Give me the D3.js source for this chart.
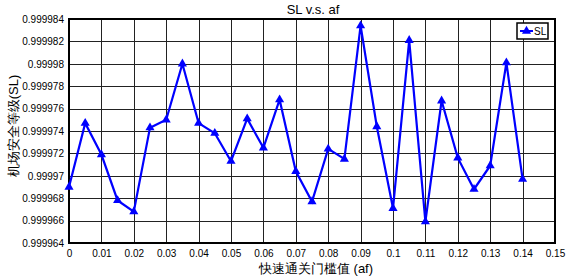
<!DOCTYPE html>
<html>
<head>
<meta charset="utf-8">
<script src="https://cdn.jsdelivr.net/npm/d3@7"></script>
<style>
  body { margin: 0; background: #fff; }
  text { font-family: "Liberation Sans", Arial, sans-serif; }
</style>
</head>
<body>
<div id="container"></div>
<script>
const width = 567;
const height = 279;
const marginTop = 19;
const marginRight = 12;
const marginBottom = 36;
const marginLeft = 69;

// af values (x) and SL values (y)
const afValues = [0, 0.005, 0.01, 0.015, 0.02, 0.025, 0.03, 0.035, 0.04, 0.045,
  0.05, 0.055, 0.06, 0.065, 0.07, 0.075, 0.08, 0.085, 0.09, 0.095,
  0.1, 0.105, 0.11, 0.115, 0.12, 0.125, 0.13, 0.135, 0.14];
const slValues = [0.9999690, 0.9999747, 0.9999719, 0.9999678, 0.9999668, 0.9999743, 0.9999750, 0.9999800, 0.9999747, 0.9999738,
  0.9999713, 0.9999751, 0.9999725, 0.9999768, 0.9999704, 0.9999677, 0.9999724, 0.9999715, 0.9999834, 0.9999744,
  0.9999671, 0.9999821, 0.9999659, 0.9999767, 0.9999716, 0.9999688, 0.9999709, 0.9999801, 0.9999697];

const xTicks = [0, 0.01, 0.02, 0.03, 0.04, 0.05, 0.06, 0.07, 0.08, 0.09, 0.1, 0.11, 0.12, 0.13, 0.14, 0.15];
const yTicks = [0.999964, 0.999966, 0.999968, 0.99997, 0.999972, 0.999974, 0.999976, 0.999978, 0.99998, 0.999982, 0.999984];
const yTickLabels = ["0.999964", "0.999966", "0.999968", "0.99997", "0.999972", "0.999974", "0.999976", "0.999978", "0.99998", "0.999982", "0.999984"];

const data = afValues.map((a, i) => ({af: a, sl: slValues[i]}));

const x = d3.scaleLinear()
  .domain([0, 0.15])
  .range([marginLeft, width - marginRight]);

const y = d3.scaleLinear()
  .domain([0.999964, 0.999984])
  .range([height - marginBottom, marginTop]);

const svg = d3.create("svg")
  .attr("width", width)
  .attr("height", height)
  .attr("viewBox", [0, 0, width, height]);

// grid
svg.append("g")
  .attr("stroke", "#222")
  .attr("stroke-width", 1)
  .selectAll("line.vx")
  .data(xTicks)
  .join("line")
    .attr("x1", d => Math.round(x(d)) + 0.5)
    .attr("x2", d => Math.round(x(d)) + 0.5)
    .attr("y1", marginTop)
    .attr("y2", height - marginBottom);

svg.append("g")
  .attr("stroke", "#222")
  .attr("stroke-width", 1)
  .selectAll("line")
  .data(yTicks)
  .join("line")
    .attr("x1", marginLeft)
    .attr("x2", width - marginRight)
    .attr("y1", d => Math.round(y(d)) + 0.5)
    .attr("y2", d => Math.round(y(d)) + 0.5);

// axes
svg.append("g")
  .attr("transform", `translate(0,${height - marginBottom})`)
  .call(d3.axisBottom(x).tickValues(xTicks).tickFormat(d => d3.format("")(+d.toFixed(2))).tickSize(0).tickPadding(7))
  .call(g => g.select(".domain").remove())
  .call(g => g.selectAll("text").attr("font-size", 10).attr("fill", "#000").attr("font-family", "Liberation Sans, Arial, sans-serif"));

svg.append("g")
  .attr("transform", `translate(${marginLeft},0)`)
  .call(d3.axisLeft(y).tickValues(yTicks).tickFormat((d, i) => yTickLabels[i]).tickSize(0).tickPadding(5))
  .call(g => g.select(".domain").remove())
  .call(g => g.selectAll("text").attr("font-size", 10).attr("fill", "#000").attr("font-family", "Liberation Sans, Arial, sans-serif"));

// frame
svg.append("rect")
  .attr("x", marginLeft)
  .attr("y", marginTop)
  .attr("width", width - marginRight - marginLeft)
  .attr("height", height - marginBottom - marginTop)
  .attr("fill", "none")
  .attr("stroke", "#000")
  .attr("stroke-width", 2);

// line
svg.append("path")
  .datum(data)
  .attr("fill", "none")
  .attr("stroke", "#0000ff")
  .attr("stroke-width", 2.2)
  .attr("stroke-linejoin", "miter")
  .attr("d", d3.line().x(d => x(d.af)).y(d => y(d.sl)));

const tri = d3.symbol().type(d3.symbolTriangle).size(36);
svg.append("g")
  .attr("fill", "#0000ff")
  .selectAll("path")
  .data(data)
  .join("path")
    .attr("transform", d => `translate(${x(d.af)},${y(d.sl)})`)
    .attr("d", tri);

// title
svg.append("text")
  .attr("x", 313)
  .attr("y", 14)
  .attr("text-anchor", "middle")
  .attr("font-size", 13)
  .text("SL v.s. af");

// axis labels
svg.append("text")
  .attr("x", 316)
  .attr("y", 273)
  .attr("text-anchor", "middle")
  .attr("font-size", 13)
  .attr("font-family", "Noto Sans CJK SC, sans-serif")
  .text("快速通关门槛值 (af)");

svg.append("text")
  .attr("transform", `translate(18,126) rotate(-90)`)
  .attr("text-anchor", "middle")
  .attr("font-size", 13)
  .attr("font-family", "Noto Sans CJK SC, sans-serif")
  .text("机场安全等级(SL)");

// legend
const lg = svg.append("g").attr("transform", "translate(517,23)");
lg.append("rect")
  .attr("width", 31)
  .attr("height", 16)
  .attr("fill", "#fff")
  .attr("stroke", "#000")
  .attr("stroke-width", 1.5);
lg.append("line")
  .attr("x1", 3).attr("x2", 16)
  .attr("y1", 8).attr("y2", 8)
  .attr("stroke", "#0000ff").attr("stroke-width", 2);
lg.append("path")
  .attr("transform", "translate(9.5,8)")
  .attr("fill", "#0000ff")
  .attr("d", tri);
lg.append("text")
  .attr("x", 17)
  .attr("y", 12)
  .attr("font-size", 10)
  .text("SL");

document.getElementById("container").appendChild(svg.node());
</script>
</body>
</html>
